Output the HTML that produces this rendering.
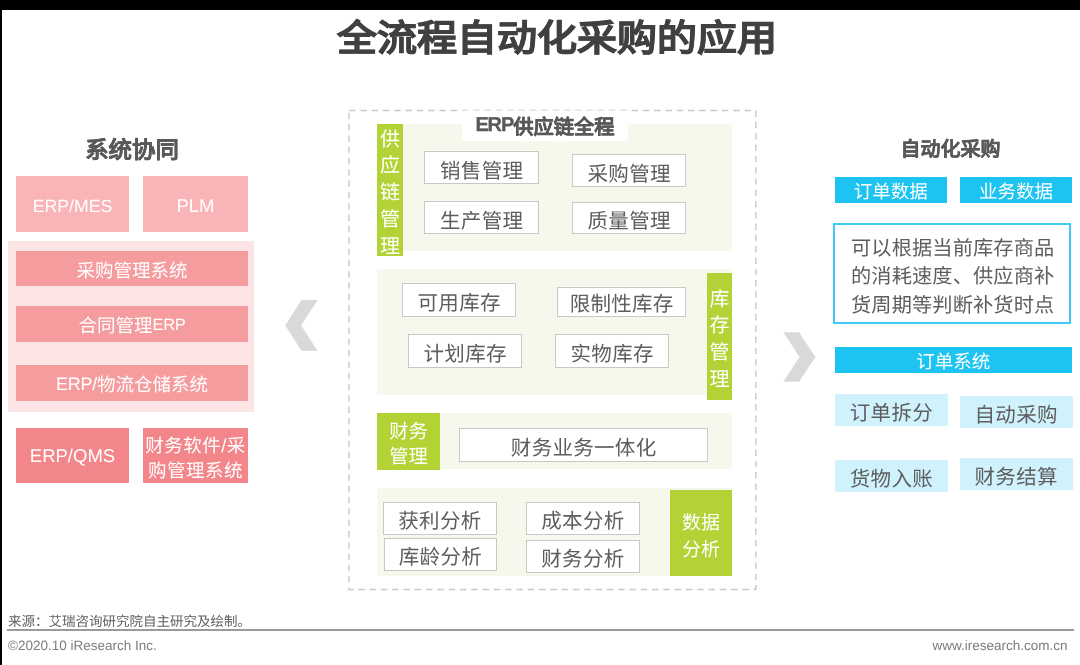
<!DOCTYPE html>
<html lang="zh-CN">
<head>
<meta charset="utf-8">
<title>全流程自动化采购的应用</title>
<style>
html,body{margin:0;padding:0;}
body{width:1080px;height:665px;position:relative;overflow:hidden;background:#fff;font-family:"Liberation Sans",sans-serif;color:#595959;text-rendering:geometricPrecision;}
.abs{position:absolute;box-sizing:border-box;}
.c{display:flex;align-items:center;justify-content:center;text-align:center;white-space:nowrap;}
.topbar{left:0;top:0;width:1080px;height:10px;background:#000;}
.leftbar{left:0;top:0;width:2px;height:665px;background:#000;}
.title{left:0;top:12px;width:1114px;height:46px;font-size:40px;font-weight:bold;color:#404040;-webkit-text-stroke:0.7px #404040;transform:scaleY(0.92);transform-origin:50% 54%;}
.h2{font-weight:bold;color:#595959;}
.pk{color:#fff;font-size:18.5px;padding-top:2px;}
.lt{font-size:16.5px;letter-spacing:-0.3px;}
.pk1{background:#f8b4b7;}
.pk2{background:#f59c9e;}
.pk3{background:#f3868b;}
.pkc{background:#fde5e6;}
.beige{background:#f6f8eb;}
.green{background:#b2d235;color:#fff;font-size:20px;}
.box{background:#fff;border:1px solid #c8c8c8;font-size:20.5px;color:#5e5e5e;padding-top:2px;letter-spacing:0.3px;padding-left:0.3px;}
.blue{background:#1ec4f1;color:#fff;font-size:18.5px;padding-top:2px;}
.lb{background:#d0f2fc;color:#5e5e5e;font-size:20.5px;padding-top:2px;letter-spacing:0.3px;padding-left:0.3px;}
.v{flex-direction:column;}
.v span{display:block;height:26.7px;line-height:26.7px;}
.foot{font-size:13.5px;color:#7d7d7d;white-space:nowrap;}
</style>
</head>
<body>
<div id="stage" style="position:absolute;left:0;top:0;width:1080px;height:665px;will-change:transform;">
<div class="abs topbar"></div>
<div class="abs leftbar"></div>

<div class="abs c title">全流程自动化采购的应用</div>

<!-- left column -->
<div class="abs c h2" style="left:62px;top:130.5px;width:140px;height:34px;font-size:23.4px;-webkit-text-stroke:0.3px #595959;">系统协同</div>
<div class="abs c pk pk1" style="left:16px;top:176px;width:113px;height:56px;font-size:17.7px;padding-top:4px;">ERP/MES</div>
<div class="abs c pk pk1" style="left:143px;top:176px;width:105px;height:56px;padding-top:3.5px;">PLM</div>
<div class="abs pkc" style="left:8px;top:241px;width:246px;height:171px;"></div>
<div class="abs c pk pk2" style="left:16px;top:251px;width:232px;height:35px;">采购管理系统</div>
<div class="abs c pk pk2" style="left:16px;top:306px;width:232px;height:36px;">合同管理<span class="lt">ERP</span></div>
<div class="abs c pk pk2" style="left:16px;top:365px;width:232px;height:36px;"><span class="lt" style="font-size:18px;">ERP/</span>物流仓储系统</div>
<div class="abs c pk pk3" style="left:16px;top:428px;width:113px;height:55px;padding-top:0;">ERP/QMS</div>
<div class="abs c pk pk3" style="left:143px;top:428px;width:105px;height:55px;line-height:25.5px;padding-top:5px;letter-spacing:0.5px;white-space:normal;">财务软件/采<br>购管理系统</div>

<!-- chevrons + dashed frame -->
<svg class="abs" style="left:0;top:0;" width="1080" height="665" viewBox="0 0 1080 665">
  <polygon points="317.6,300.1 301.4,300.1 285.3,325.4 301.4,350.7 317.6,350.7 301.2,325.4" fill="#d9d9d9"/>
  <polygon points="783.3,332.3 799.1,332.3 815.4,357 799.1,381.8 783.3,381.8 799.5,357" fill="#d9d9d9"/>
  <rect x="349" y="110.5" width="406.8" height="479" fill="none" stroke="#c8c8c8" stroke-width="1.4" stroke-dasharray="6.5 4.8"/>
</svg>

<!-- center: section 1 -->
<div class="abs beige" style="left:402px;top:124px;width:330px;height:127px;"></div>
<div class="abs c green v" style="left:377px;top:124px;width:26px;height:132px;padding-top:7px;"><span>供</span><span>应</span><span>链</span><span>管</span><span>理</span></div>
<div class="abs c h2" style="left:462px;top:110.4px;width:166px;height:30.6px;background:#fff;font-size:20.3px;padding-bottom:0.4px;-webkit-text-stroke:0.3px #595959;"><span style="font-size:20px;letter-spacing:-1.1px;">ERP</span>供应链全程</div>
<svg class="abs" style="left:462px;top:108px;" width="166" height="5" viewBox="0 0 166 5"><line x1="0" y1="2.5" x2="166" y2="2.5" stroke="#e2e2e2" stroke-width="1.2" stroke-dasharray="6.5 4.8"/></svg>
<div class="abs c box" style="left:424px;top:151px;width:115px;height:33px;">销售管理</div>
<div class="abs c box" style="left:572px;top:154px;width:114px;height:33px;">采购管理</div>
<div class="abs c box" style="left:424px;top:201px;width:115px;height:33px;">生产管理</div>
<div class="abs c box" style="left:572px;top:202px;width:114px;height:32px;">质量管理</div>

<!-- center: section 2 -->
<div class="abs beige" style="left:377px;top:268.5px;width:355px;height:126.5px;"></div>
<div class="abs c green v" style="left:707px;top:273px;width:25px;height:127px;padding-top:7px;"><span>库</span><span>存</span><span>管</span><span>理</span></div>
<div class="abs c box" style="left:402px;top:283px;width:114px;height:34px;">可用库存</div>
<div class="abs c box" style="left:557px;top:286.5px;width:129px;height:30.5px;padding-top:0;">限制性库存</div>
<div class="abs c box" style="left:408px;top:334px;width:114px;height:34px;">计划库存</div>
<div class="abs c box" style="left:555px;top:334px;width:114px;height:34px;">实物库存</div>

<!-- center: section 3 -->
<div class="abs beige" style="left:377px;top:413px;width:355px;height:56px;"></div>
<div class="abs c green" style="left:377px;top:413px;width:63px;height:56.5px;line-height:24.7px;font-size:19.3px;padding-top:8.5px;white-space:normal;">财务<br>管理</div>
<div class="abs c box" style="left:459px;top:427.5px;width:249px;height:34px;">财务业务一体化</div>

<!-- center: section 4 -->
<div class="abs beige" style="left:377px;top:487.5px;width:355px;height:88px;"></div>
<div class="abs c green" style="left:670px;top:490px;width:62px;height:86px;line-height:26.7px;font-size:19px;padding-top:10px;white-space:normal;">数据<br>分析</div>
<div class="abs c box" style="left:383px;top:502px;width:113.5px;height:32.5px;">获利分析</div>
<div class="abs c box" style="left:526px;top:502px;width:113.5px;height:32.5px;">成本分析</div>
<div class="abs c box" style="left:383.5px;top:538px;width:113.5px;height:32.5px;">库龄分析</div>
<div class="abs c box" style="left:526px;top:540px;width:113.5px;height:32.5px;">财务分析</div>

<!-- right column -->
<div class="abs c h2" style="left:880.5px;top:132.5px;width:140px;height:30px;font-size:20px;-webkit-text-stroke:0.3px #595959;">自动化采购</div>
<div class="abs c blue" style="left:834.5px;top:176.5px;width:112.5px;height:26px;">订单数据</div>
<div class="abs c blue" style="left:960px;top:176.5px;width:112px;height:26px;">业务数据</div>
<div class="abs" style="left:833px;top:222.5px;width:238px;height:101.5px;border:2px solid #3fcaf3;background:#fff;font-size:20.2px;line-height:28.6px;padding:10.3px 0 0 16px;letter-spacing:0.15px;color:#5e5e5e;white-space:nowrap;">可以根据当前库存商品<br>的消耗速度、供应商补<br>货周期等判断补货时点</div>
<div class="abs c blue" style="left:834.5px;top:347px;width:237.5px;height:25.5px;">订单系统</div>
<div class="abs c lb" style="left:834.5px;top:393.5px;width:113.5px;height:32px;">订单拆分</div>
<div class="abs c lb" style="left:959.5px;top:396px;width:113px;height:32px;">自动采购</div>
<div class="abs c lb" style="left:834.5px;top:460px;width:113.5px;height:31.5px;">货物入账</div>
<div class="abs c lb" style="left:959.5px;top:458px;width:113px;height:32px;">财务结算</div>

<!-- footer -->
<div class="abs foot" style="left:8px;top:613px;height:18px;line-height:18px;color:#606060;font-size:13.5px;">来源：艾瑞咨询研究院自主研究及绘制。</div>
<div class="abs" style="left:7px;top:629px;width:1067px;height:2px;background:#9a9a9a;"></div>
<div class="abs foot" style="left:8px;top:636.6px;height:18px;line-height:18px;">©2020.10 iResearch Inc.</div>
<div class="abs foot" style="right:12.5px;top:636.8px;height:18px;line-height:18px;">www.iresearch.com.cn</div>
</div>
</body>
</html>
